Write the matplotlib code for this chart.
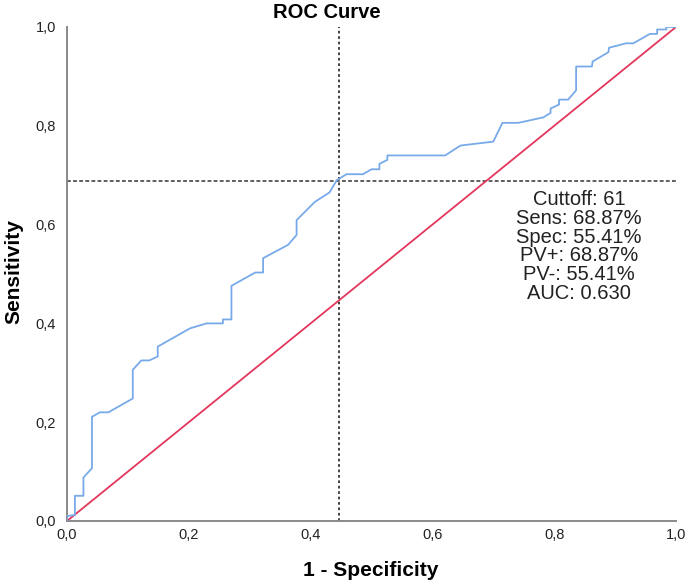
import matplotlib
matplotlib.use("Agg")
import matplotlib.pyplot as plt

plt.rcParams['font.family'] = ['Liberation Sans', 'DejaVu Sans']

# ROC curve points (1 - specificity, sensitivity)
fpr = [0.0, 0.0, 0.013, 0.013, 0.027, 0.027, 0.041, 0.041, 0.054, 0.068,
       0.108, 0.108, 0.122, 0.135, 0.149, 0.149, 0.202, 0.229, 0.256, 0.256,
       0.270, 0.270, 0.309, 0.322, 0.322, 0.363, 0.377, 0.377, 0.407, 0.431,
       0.443, 0.459, 0.486, 0.500, 0.513, 0.513, 0.526, 0.526, 0.621, 0.646,
       0.700, 0.715, 0.741, 0.782, 0.794, 0.794, 0.808, 0.808, 0.823, 0.836,
       0.836, 0.862, 0.863, 0.889, 0.890, 0.918, 0.930, 0.957, 0.969, 0.969,
       0.984, 0.984, 1.0]
tpr = [0.0, 0.010, 0.012, 0.051, 0.051, 0.088, 0.107, 0.211, 0.220, 0.220,
       0.248, 0.306, 0.325, 0.325, 0.333, 0.353, 0.390, 0.400, 0.400, 0.408,
       0.408, 0.476, 0.503, 0.503, 0.532, 0.559, 0.579, 0.609, 0.646, 0.665,
       0.690, 0.702, 0.702, 0.712, 0.712, 0.723, 0.731, 0.740, 0.740, 0.760,
       0.768, 0.806, 0.806, 0.817, 0.826, 0.835, 0.843, 0.853, 0.853, 0.872,
       0.920, 0.920, 0.930, 0.949, 0.958, 0.967, 0.967, 0.986, 0.986, 0.995,
       0.995, 1.0, 1.0]

cutoff = 61
sens = 0.6887
spec = 0.5541
ppv = 0.6887
npv = 0.5541
auc = 0.630

ticks = [0.0, 0.2, 0.4, 0.6, 0.8, 1.0]
tick_labels = ['0,0', '0,2', '0,4', '0,6', '0,8', '1,0']

fig = plt.figure(figsize=(6.85, 5.83), dpi=100)
ax = fig.add_axes([67 / 685, 1 - 521 / 583, 609 / 685, 494 / 583])

ax.plot([0, 1], [0, 1], color='#e2365c', linewidth=1.3, zorder=2)
ax.plot(fpr, tpr, color='#78aaea', linewidth=1.3, zorder=3)
ax.axvline(1 - spec, color='#333333', linestyle=(0, (1.5, 1.5)), linewidth=1.3, zorder=1)
ax.axhline(sens, color='#333333', linestyle=(0, (2.5, 1.5)), linewidth=1.1, zorder=1)

ax.set_xlim(0, 1)
ax.set_ylim(0, 1)
ax.set_xticks(ticks)
ax.set_xticklabels(tick_labels)
ax.set_yticks(ticks)
ax.set_yticklabels(tick_labels)
ax.tick_params(length=0, labelsize=10.5, colors='#222222', pad=5)
ax.tick_params(axis='y', pad=8)

for s in ['top', 'right']:
    ax.spines[s].set_visible(False)
for s in ['left', 'bottom']:
    ax.spines[s].set_color('#8a8a8a')
    ax.spines[s].set_linewidth(1.4)

fig.text(371 / 685, 1 - 570 / 583, '1 - Specificity', fontsize=15, fontweight='bold',
         ha='center', va='center')
fig.text(14 / 685, 1 - 272 / 583, 'Sensitivity', fontsize=15, fontweight='bold',
         ha='center', va='center', rotation=90)
fig.text(327 / 685, 1 - 12 / 583, 'ROC Curve', fontsize=14.5, fontweight='bold',
         ha='center', va='center')

lines = [
    f'Cuttoff: {cutoff}',
    f'Sens: {sens * 100:.2f}%',
    f'Spec: {spec * 100:.2f}%',
    f'PV+: {ppv * 100:.2f}%',
    f'PV-: {npv * 100:.2f}%',
    f'AUC: {auc:.3f}',
]
for i, t in enumerate(lines):
    ax.annotate(t, xy=(0.8407, 0.6498), xycoords='axes fraction',
                xytext=(0, -i * 13.43), textcoords='offset points',
                ha='center', va='center', fontsize=14.5, color='#222222')

fig.savefig('out.png', dpi=100)
